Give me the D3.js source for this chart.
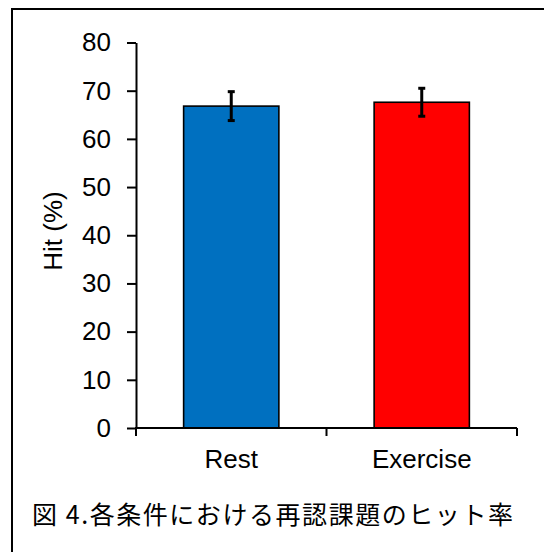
<!DOCTYPE html>
<html>
<head>
<meta charset="utf-8">
<script src="https://cdn.jsdelivr.net/npm/d3@7"></script>
<style>
  html, body { margin: 0; padding: 0; background: #fff; }
  svg { display: block; }
</style>
</head>
<body>
<script>
// Hit rate (%) per condition, with error bars
const categories = ["Rest", "Exercise"];
const hitMeans = [66.8, 67.6];
const hitErrors = [3.0, 2.9];
const barColors = ["#0070C0", "#FF0000"];
const yTicks = [0, 10, 20, 30, 40, 50, 60, 70, 80];
const yLabel = "Hit (%)";
const caption = "図 4.各条件における再認課題のヒット率";

const W = 544, H = 552;
const svg = d3.select("body").append("svg").attr("width", W).attr("height", H);

// frame around the figure
svg.append("rect")
  .attr("x", 12).attr("y", 9)
  .attr("width", 540).attr("height", 560)
  .attr("fill", "none").attr("stroke", "#000").attr("stroke-width", 2);

const x = d3.scaleBand().domain(categories).range([136, 517]).padding(0);
const y = d3.scaleLinear().domain([0, 80]).range([428, 42.5]);

const font = "'Liberation Sans', Arial, sans-serif";

// y axis
const yAxis = svg.append("g")
  .attr("transform", "translate(136,0)")
  .call(d3.axisLeft(y).tickValues(yTicks).tickSize(9).tickSizeOuter(0).tickPadding(16));
yAxis.select(".domain").attr("stroke", "#000").attr("stroke-width", 2);
yAxis.selectAll(".tick line").attr("stroke", "#000").attr("stroke-width", 2);
yAxis.selectAll(".tick text")
  .attr("fill", "#000").style("font-family", font).style("font-size", "26px");

// bars
const barW = x.bandwidth() * 0.5;
svg.selectAll("rect.bar").data(categories).join("rect")
  .attr("class", "bar")
  .attr("x", d => x(d) + (x.bandwidth() - barW) / 2)
  .attr("y", (d, i) => y(hitMeans[i]))
  .attr("width", barW)
  .attr("height", (d, i) => y(0) - y(hitMeans[i]))
  .attr("fill", (d, i) => barColors[i])
  .attr("stroke", "#000").attr("stroke-width", 1.6);

// x axis with ticks at category boundaries
const xAxis = svg.append("g");
xAxis.append("line")
  .attr("x1", 135).attr("x2", x.range()[1])
  .attr("y1", y(0)).attr("y2", y(0))
  .attr("stroke", "#000").attr("stroke-width", 2);
const bounds = categories.map(c => x(c)).concat([x.range()[1]]);
xAxis.selectAll("line.xt").data(bounds).join("line")
  .attr("class", "xt")
  .attr("x1", d => d).attr("x2", d => d)
  .attr("y1", y(0)).attr("y2", y(0) + 8)
  .attr("stroke", "#000").attr("stroke-width", 2);
xAxis.selectAll("text").data(categories).join("text")
  .attr("x", d => x(d) + x.bandwidth() / 2)
  .attr("y", 468)
  .attr("text-anchor", "middle")
  .style("font-family", font).style("font-size", "26px")
  .text(d => d);

// error bars
const cap = 3.5;
categories.forEach((c, i) => {
  const cx = x(c) + x.bandwidth() / 2;
  const top = y(hitMeans[i] + hitErrors[i]);
  const bot = y(hitMeans[i] - hitErrors[i]);
  const g = svg.append("g").attr("stroke", "#000");
  g.append("line").attr("x1", cx).attr("x2", cx).attr("y1", top).attr("y2", bot).attr("stroke-width", 3);
  g.append("line").attr("x1", cx - cap).attr("x2", cx + cap).attr("y1", top).attr("y2", top).attr("stroke-width", 3);
  g.append("line").attr("x1", cx - cap).attr("x2", cx + cap).attr("y1", bot).attr("y2", bot).attr("stroke-width", 3);
});

// y axis title
svg.append("text")
  .attr("transform", "translate(62,231) rotate(-90)")
  .attr("text-anchor", "middle")
  .style("font-family", font).style("font-size", "26px")
  .text(yLabel);

// figure caption
svg.append("text")
  .attr("x", 32).attr("y", 524)
  .attr("textLength", 481).attr("lengthAdjust", "spacing")
  .style("font-family", "'Noto Sans CJK JP', sans-serif").style("font-size", "25px")
  .text(caption);
</script>
</body>
</html>
